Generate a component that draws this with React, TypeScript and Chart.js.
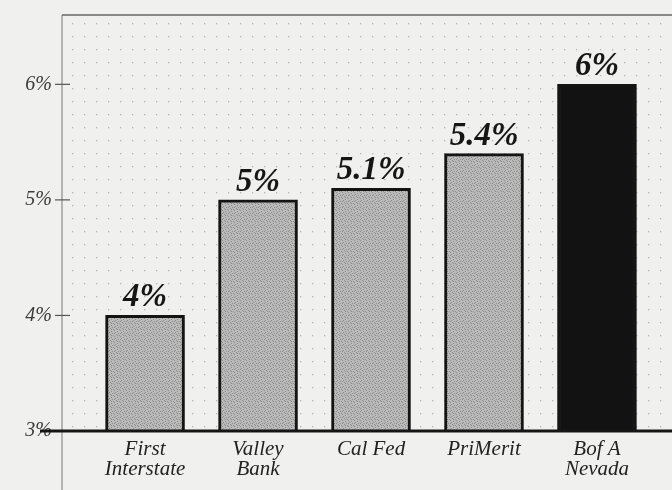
import React, { useEffect, useRef } from "react";
import { Chart, registerables } from "chart.js";

Chart.register(...registerables);

const categories: string[][] = [["First", "Interstate"], ["Valley", "Bank"], ["Cal Fed"], ["PriMerit"], ["Bof A", "Nevada"]];
const values: number[] = [4, 5, 5.1, 5.4, 6];
const valueLabels: string[] = ["4%", "5%", "5.1%", "5.4%", "6%"];
const yTicks: number[] = [3, 4, 5, 6];

function makePattern(): CanvasPattern | string {
  const c = document.createElement("canvas");
  c.width = 6;
  c.height = 6;
  const g = c.getContext("2d");
  if (!g) return "#aaaaaa";
  g.fillStyle = "#bababa";
  g.fillRect(0, 0, 6, 6);
  g.fillStyle = "#8c8c8c";
  const pts = [[0, 0], [3, 1], [1, 2], [4, 3], [2, 4], [5, 5], [0, 3], [3, 5]];
  pts.forEach(([x, y]) => g.fillRect(x, y, 1, 1));
  const p = g.createPattern(c, "repeat");
  return p || "#aaaaaa";
}

const decor = {
  id: "decor",
  beforeDraw(chart: any) {
    const { ctx, chartArea: a } = chart;
    ctx.save();
    ctx.fillStyle = "#f0f0ee";
    ctx.fillRect(0, 0, chart.width, chart.height);
    ctx.fillStyle = "rgba(110,110,110,0.45)";
    for (let y = a.top + 8; y < a.bottom; y += 13) {
      for (let x = a.left + 10; x < a.right; x += 12) {
        ctx.fillRect(x, y, 1.3, 1.3);
      }
    }
    ctx.restore();
  },
  afterDraw(chart: any) {
    const { ctx, chartArea: a, scales } = chart;
    const ys = scales.y;
    ctx.save();
    ctx.strokeStyle = "#666";
    ctx.lineWidth = 1.5;
    ctx.beginPath();
    ctx.moveTo(a.left, a.top);
    ctx.lineTo(a.right, a.top);
    ctx.stroke();
    ctx.strokeStyle = "#777";
    ctx.lineWidth = 1;
    ctx.beginPath();
    ctx.moveTo(a.left, a.top);
    ctx.lineTo(a.left, chart.height);
    ctx.stroke();
    ctx.strokeStyle = "#555";
    ctx.lineWidth = 1.2;
    yTicks.forEach((t) => {
      const y = ys.getPixelForValue(t);
      ctx.beginPath();
      ctx.moveTo(a.left - 7, y);
      ctx.lineTo(a.left + 8, y);
      ctx.stroke();
    });
    const by = ys.getPixelForValue(3);
    ctx.strokeStyle = "#151515";
    ctx.lineWidth = 3;
    ctx.beginPath();
    ctx.moveTo(40, by);
    ctx.lineTo(a.right, by);
    ctx.stroke();
    const meta = chart.getDatasetMeta(0);
    ctx.fillStyle = "#161616";
    ctx.font = "italic bold 33px 'Liberation Serif', serif";
    ctx.textAlign = "center";
    ctx.textBaseline = "alphabetic";
    meta.data.forEach((el: any, i: number) => {
      ctx.fillText(valueLabels[i], el.x, el.y - 9);
    });
    ctx.restore();
  },
};

export default function App() {
  const ref = useRef<HTMLCanvasElement>(null);
  useEffect(() => {
    if (!ref.current) return;
    const pat = makePattern();
    const chart = new Chart(ref.current, {
      type: "bar",
      data: {
        datasets: [
          {
            data: values.map((v, i) => ({ x: i, y: v })),
            backgroundColor: values.map((_, i) => (i === values.length - 1 ? "#121212" : pat)) as any,
            borderColor: "#141414",
            borderWidth: 3,
            borderSkipped: "bottom",
            barThickness: 79,
          },
        ],
      },
      options: {
        animation: false,
        responsive: false,
        maintainAspectRatio: false,
        layout: { padding: { top: 15, left: 0, right: 0, bottom: 0 } },
        plugins: { legend: { display: false }, tooltip: { enabled: false } },
        scales: {
          x: {
            type: "linear",
            offset: false,
            min: -0.735,
            max: 4.664,
            afterFit: (s: any) => {
              s.height = 59;
              s.paddingLeft = 0;
              s.paddingRight = 0;
            },
            afterBuildTicks: (s: any) => {
              s.ticks = categories.map((_, i) => ({ value: i }));
            },
            ticks: {
              autoSkip: false,
              maxRotation: 0,
              padding: 8,
              color: "#222",
              font: { family: "'Liberation Serif', serif", size: 21, style: "italic", lineHeight: 0.98 },
              callback: (v: any) => categories[Number(v)] ?? "",
            },
            grid: { display: false, drawTicks: false, offset: false },
            border: { display: false },
          },
          y: {
            min: 3,
            max: 6.6,
            afterFit: (s: any) => {
              s.width = 62;
              s.paddingTop = 0;
              s.paddingBottom = 0;
            },
            afterBuildTicks: (s: any) => {
              s.ticks = yTicks.map((v) => ({ value: v }));
            },
            ticks: {
              padding: 10,
              color: "#3a3a3a",
              font: { family: "'Liberation Serif', serif", size: 20, style: "italic" },
              callback: (v: any) => `${v}%`,
            },
            grid: { display: false, drawTicks: false },
            border: { display: false },
          },
        },
      },
      plugins: [decor],
    } as any);
    return () => chart.destroy();
  }, []);
  return (
    <div style={{ position: "fixed", left: 0, top: 0, width: 672, height: 490 }}>
      <canvas ref={ref} width={672} height={490} style={{ width: 672, height: 490 }} />
    </div>
  );
}
